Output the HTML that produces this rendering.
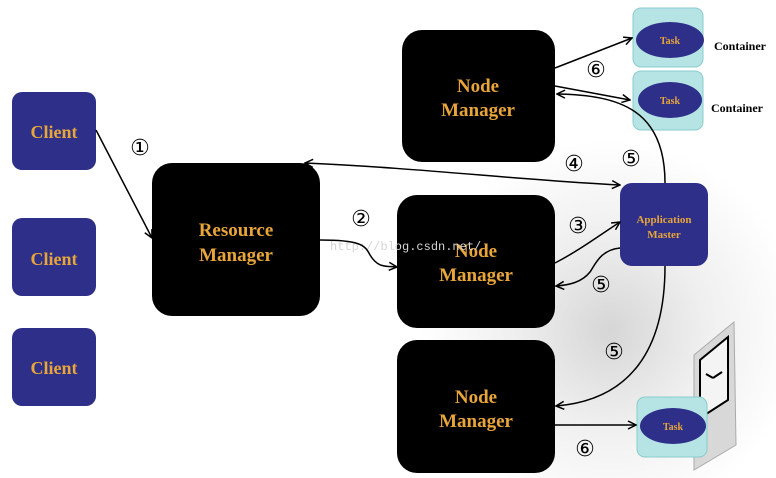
<!DOCTYPE html>
<html><head><meta charset="utf-8"><style>
html,body{margin:0;padding:0}
body{width:776px;height:478px;overflow:hidden;background:#fff;position:relative;font-family:"Liberation Serif",serif}
</style></head><body>
<svg width="776" height="478" xmlns="http://www.w3.org/2000/svg" style="position:absolute;left:0;top:0">
<defs>
<radialGradient id="g" cx="610" cy="330" r="190" gradientUnits="userSpaceOnUse">
<stop offset="0" stop-color="#d6d6d6"/><stop offset="0.5" stop-color="#efefef"/><stop offset="1" stop-color="#fff"/>
</radialGradient>
<marker id="a" markerWidth="10" markerHeight="10" refX="9" refY="5" orient="auto" markerUnits="userSpaceOnUse">
<path d="M1,1 L9,5 L1,9" fill="none" stroke="#000" stroke-width="1.5"/></marker>
<marker id="b" markerWidth="10" markerHeight="10" refX="1" refY="5" orient="auto" markerUnits="userSpaceOnUse">
<path d="M9,1 L1,5 L9,9" fill="none" stroke="#000" stroke-width="1.5"/></marker>
</defs>
<rect x="0" y="0" width="776" height="478" fill="url(#g)"/>
<g fill="#000" stroke="none">
<rect x="12" y="92" width="84" height="78" rx="10" fill="#2d2f88"/>
<rect x="12" y="218" width="84" height="78" rx="10" fill="#2d2f88"/>
<rect x="12" y="328" width="84" height="78" rx="10" fill="#2d2f88"/>
<rect x="152" y="163" width="168" height="153" rx="20"/>
<rect x="402" y="30" width="153" height="132" rx="20"/>
<rect x="397" y="195" width="158" height="133" rx="20"/>
<rect x="397" y="340" width="158" height="133" rx="20"/>
<rect x="620" y="183" width="88" height="83" rx="12" fill="#2d2f88"/>
</g>
<g>
<polygon points="694,355 734,322 736,445 694,470" fill="#d8d8d8" stroke="#aaa"/>
<polygon points="700,360 728,337 728,400 700,418" fill="#f4f4f4" stroke="#000" stroke-width="2"/>
<line x1="713" y1="378" x2="722" y2="372" stroke="#000" stroke-width="2"/>
<line x1="713" y1="378" x2="706" y2="374" stroke="#000" stroke-width="2"/>
</g>
<g fill="#b6e3e3" stroke="#8cc">
<rect x="633" y="8" width="70" height="59" rx="8"/>
<rect x="633" y="71" width="70" height="59" rx="8"/>
<rect x="637" y="397" width="70" height="60" rx="8"/>
</g>
<g fill="#2d2f88">
<ellipse cx="670" cy="40" rx="34" ry="18"/>
<ellipse cx="670" cy="100" rx="32" ry="18"/>
<ellipse cx="673" cy="426" rx="33" ry="18"/>
</g>
<g fill="#e8a53a" font-weight="bold" text-anchor="middle">
<text x="54" y="138" font-size="18">Client</text>
<text x="54" y="265" font-size="18">Client</text>
<text x="54" y="374" font-size="18">Client</text>
<text x="236" y="236" font-size="19">Resource</text>
<text x="236" y="261" font-size="19">Manager</text>
<text x="478" y="92" font-size="19">Node</text>
<text x="478" y="116" font-size="19">Manager</text>
<text x="476" y="257" font-size="19">Node</text>
<text x="476" y="281" font-size="19">Manager</text>
<text x="476" y="403" font-size="19">Node</text>
<text x="476" y="427" font-size="19">Manager</text>
<text x="664" y="223" font-size="11">Application</text>
<text x="664" y="238" font-size="11">Master</text>
<text x="670" y="44" font-size="10">Task</text>
<text x="670" y="104" font-size="10">Task</text>
<text x="673" y="430" font-size="10">Task</text>
</g>
<g font-weight="bold" font-size="12" fill="#000">
<text x="714" y="50">Container</text>
<text x="711" y="112">Container</text>
</g>
<text x="330" y="250" font-family="Liberation Mono,monospace" font-size="12" fill="#d4d4d4">http://blog.csdn.net/</text>
<g fill="none" stroke="#000" stroke-width="1.5">
<line x1="96" y1="130" x2="152" y2="238" marker-end="url(#a)"/>
<path d="M320,240 C360,240 365,245 370,255 C378,268 385,266 397,267" marker-end="url(#a)"/>
<path d="M305,163 C420,168 520,180 620,185" marker-start="url(#b)" marker-end="url(#a)"/>
<path d="M555,263 C580,250 600,235 620,222" marker-end="url(#a)"/>
<path d="M620,248 C600,250 595,265 590,272 C582,282 570,285 556,286" marker-end="url(#a)"/>
<path d="M665,183 C665,110 620,95 557,94" marker-end="url(#a)"/>
<line x1="555" y1="68" x2="632" y2="38" marker-end="url(#a)"/>
<line x1="555" y1="86" x2="630" y2="100" marker-end="url(#a)"/>
<path d="M665,266 C665,350 630,400 556,406" marker-end="url(#a)"/>
<line x1="555" y1="425" x2="636" y2="425" marker-end="url(#a)"/>
</g>
<g font-family="DejaVu Sans,sans-serif" font-size="22" fill="#000" text-anchor="middle">
<text x="140" y="155">①</text>
<text x="361" y="226">②</text>
<text x="578" y="233">③</text>
<text x="574" y="171">④</text>
<text x="631" y="166">⑤</text>
<text x="601" y="292">⑤</text>
<text x="614" y="359">⑤</text>
<text x="596" y="77">⑥</text>
<text x="585" y="456">⑥</text>
</g>
</svg>
</body></html>
